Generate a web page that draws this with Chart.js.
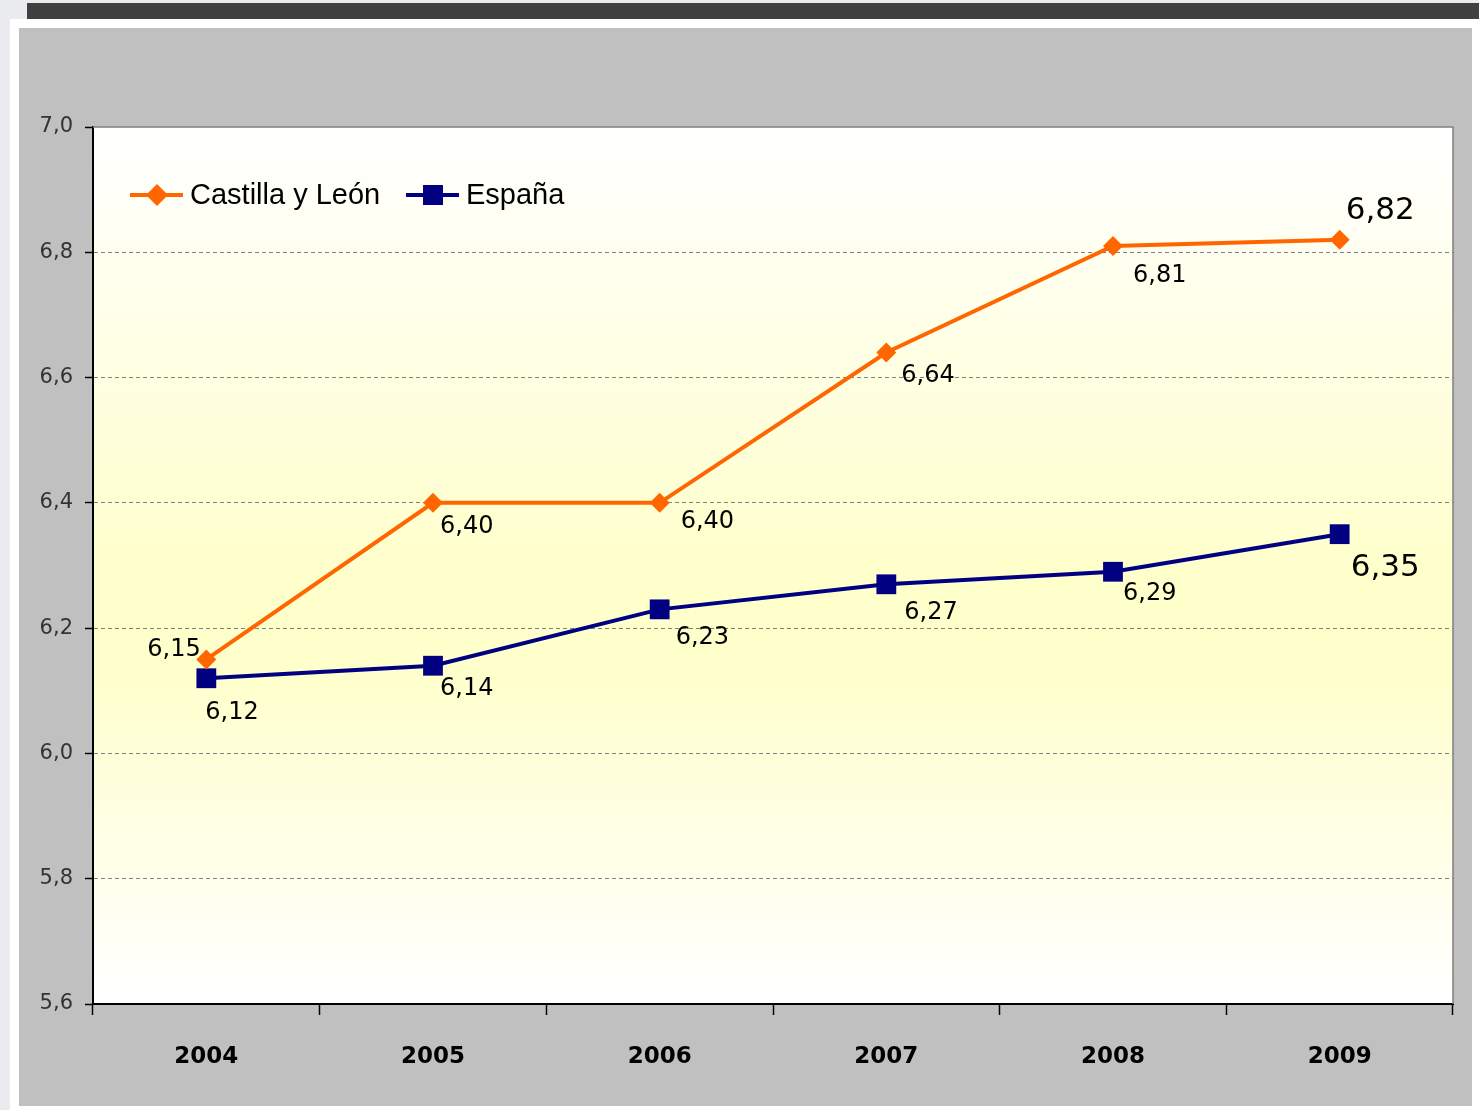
<!DOCTYPE html>
<html>
<head>
<meta charset="utf-8">
<script src="https://cdn.jsdelivr.net/npm/chart.js@4.4.0/dist/chart.umd.min.js"></script>
<style>
  body { margin: 0; background: #e9ebee; width: 1479px; height: 1110px; overflow: hidden; position: relative; }
  #sheet { position: absolute; left: 10px; top: 19px; width: 1469px; height: 1091px; background: #fff; }
  #bar { position: absolute; left: 27px; top: 3px; width: 1452px; height: 16px; background: #404040; }
  #myChart { position: absolute; left: 19px; top: 28px; background: #c0c0c0; }
</style>
</head>
<body>
<div id="sheet"></div>
<div id="bar"></div>
<canvas id="myChart" width="1453" height="1078"></canvas>
<script>
var years = ["2004", "2005", "2006", "2007", "2008", "2009"];
var castillaLeon = [6.15, 6.40, 6.40, 6.64, 6.81, 6.82];
var espana = [6.12, 6.14, 6.23, 6.27, 6.29, 6.35];
var yTicks = [5.6, 5.8, 6.0, 6.2, 6.4, 6.6, 6.8, 7.0];

// where each value label sits, relative to its point (dx, dy)
var castillaLabelPos = [[-59, -10], [7, 24], [21, 19], [15, 23], [20, 30], [6, -29]];
var espanaLabelPos = [[-1, 35], [7, 23], [16, 28], [18, 28], [10, 22], [11, 34]];

function comma(v, d) {
  return v.toFixed(d).replace(".", ",");
}

var plotBackground = {
  id: "plotBackground",
  beforeDraw: function (chart) {
    var a = chart.chartArea;
    var c = chart.ctx;
    var g = c.createLinearGradient(0, a.top, 0, a.bottom);
    g.addColorStop(0, "#ffffff");
    g.addColorStop(0.5, "#ffffcc");
    g.addColorStop(0.62, "#ffffcc");
    g.addColorStop(1, "#ffffff");
    c.save();
    c.fillStyle = g;
    c.fillRect(a.left, a.top, a.right - a.left, a.bottom - a.top);
    c.restore();
  },
  beforeDatasetsDraw: function (chart) {
    var a = chart.chartArea;
    var c = chart.ctx;
    c.save();
    c.strokeStyle = "#808080";
    c.lineWidth = 1.5;
    c.beginPath();
    c.moveTo(a.left, a.top);
    c.lineTo(a.right, a.top);
    c.lineTo(a.right, a.bottom);
    c.stroke();
    c.restore();
  }
};

var valueLabels = {
  id: "valueLabels",
  afterDatasetsDraw: function (chart) {
    var c = chart.ctx;
    var sets = [castillaLabelPos, espanaLabelPos];
    c.save();
    c.fillStyle = "#000";
    c.textAlign = "left";
    c.textBaseline = "middle";
    chart.data.datasets.forEach(function (ds, i) {
      var meta = chart.getDatasetMeta(i);
      meta.data.forEach(function (pt, j) {
        var last = j === ds.data.length - 1;
        c.font = last ? "31px 'DejaVu Sans'" : "24px 'DejaVu Sans'";
        c.fillText(comma(ds.data[j], 2), pt.x + sets[i][j][0], pt.y + sets[i][j][1]);
      });
    });
    c.restore();
  }
};

var insideLegend = {
  id: "insideLegend",
  afterDraw: function (chart) {
    var c = chart.ctx;
    var a = chart.chartArea;
    var y = a.top + 68;
    var items = [
      { x: a.left + 37, text: "Castilla y León", color: "#ff6600", shape: "diamond" },
      { x: a.left + 313, text: "España", color: "#000080", shape: "square" }
    ];
    c.save();
    items.forEach(function (it) {
      c.strokeStyle = it.color;
      c.fillStyle = it.color;
      c.lineWidth = 4;
      c.beginPath();
      c.moveTo(it.x, y);
      c.lineTo(it.x + 53, y);
      c.stroke();
      var cx = it.x + 27;
      c.beginPath();
      if (it.shape === "diamond") {
        c.moveTo(cx, y - 11);
        c.lineTo(cx + 11, y);
        c.lineTo(cx, y + 11);
        c.lineTo(cx - 11, y);
        c.closePath();
      } else {
        c.rect(cx - 10, y - 10, 20, 20);
      }
      c.fill();
      c.fillStyle = "#000";
      c.font = "29px 'Liberation Sans'";
      c.textBaseline = "middle";
      c.fillText(it.text, it.x + 60, y + 1);
    });
    c.restore();
  }
};

var ctx = document.getElementById("myChart").getContext("2d");
var chart = new Chart(ctx, {
  type: "line",
  data: {
    labels: years,
    datasets: [
      {
        label: "Castilla y León",
        data: castillaLeon,
        borderColor: "#ff6600",
        backgroundColor: "#ff6600",
        borderWidth: 4,
        pointStyle: "rectRot",
        pointRadius: 10,
        pointBorderWidth: 0,
        tension: 0
      },
      {
        label: "España",
        data: espana,
        borderColor: "#000080",
        backgroundColor: "#000080",
        borderWidth: 4,
        pointStyle: "rect",
        pointRadius: 14,
        pointBorderWidth: 0,
        tension: 0
      }
    ]
  },
  options: {
    responsive: false,
    animation: false,
    layout: { padding: { left: 0, top: 99, right: 19, bottom: 0 } },
    plugins: {
      legend: { display: false },
      tooltip: { enabled: false }
    },
    scales: {
      x: {
        offset: true,
        grid: {
          offset: true,
          drawOnChartArea: false,
          drawTicks: true,
          tickLength: 11,
          tickColor: "#000",
          tickWidth: 1.5
        },
        border: { color: "#000", width: 2 },
        ticks: {
          padding: 28,
          color: "#000",
          font: { family: "DejaVu Sans", size: 23, weight: "bold" }
        },
        afterFit: function (s) { s.height = 102; }
      },
      y: {
        min: 5.6,
        max: 7.0,
        afterBuildTicks: function (s) {
          s.ticks = yTicks.map(function (v) { return { value: v }; });
        },
        grid: {
          color: function (c) {
            var v = c.tick ? c.tick.value : 0;
            return (v <= 5.61 || v >= 6.99) ? "rgba(0,0,0,0)" : "#808080";
          },
          lineWidth: 1,
          tickLength: 8,
          tickColor: "#000",
          tickWidth: 1.5,
          tickBorderDash: []
        },
        border: { color: "#000", width: 2, dash: [4, 3] },
        ticks: {
          padding: 12,
          color: "#333",
          font: { family: "DejaVu Sans", size: 21 },
          callback: function (v) { return comma(v, 1); }
        },
        afterFit: function (s) { s.width = 74; }
      }
    }
  },
  plugins: [plotBackground, valueLabels, insideLegend]
});
</script>
</body>
</html>
